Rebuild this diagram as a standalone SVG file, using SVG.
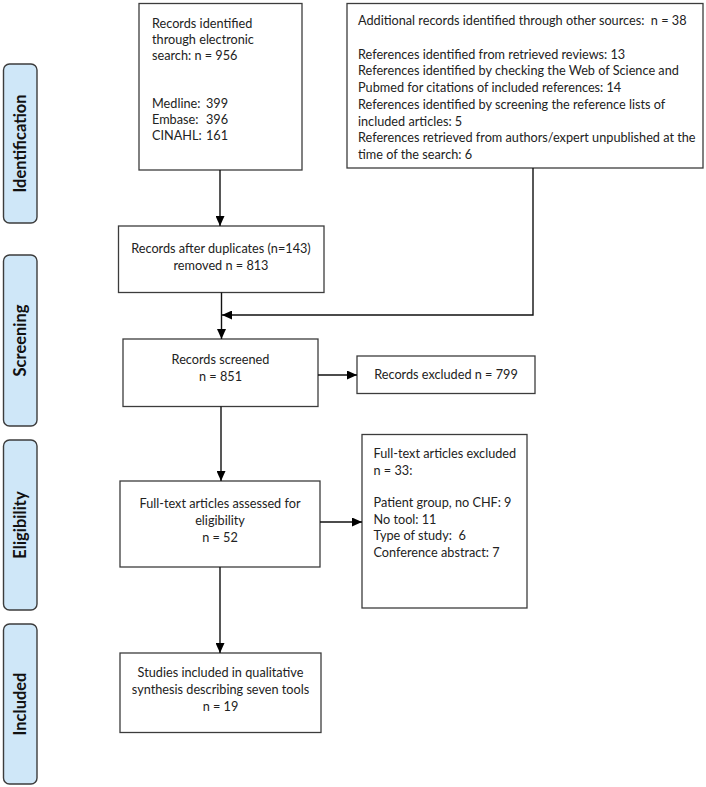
<svg xmlns="http://www.w3.org/2000/svg" width="706" height="787" viewBox="0 0 706 787">
<defs>
<marker id="ah" markerUnits="userSpaceOnUse" markerWidth="10" markerHeight="9" refX="10" refY="4.5" orient="auto">
<path d="M0,0 L10,4.5 L0,9 z" fill="#000"/>
</marker>
<style>
.bg{fill:#fff}
.box{fill:#fff;stroke:#3c3c3c;stroke-width:1.3}
.side{fill:#cfe7f8;stroke:#3c3c3c;stroke-width:1.4}
.t{font-family:Lato,"Open Sans",sans-serif;font-size:12.7px;fill:#222;white-space:pre}
.c{text-anchor:middle}
.st{font-family:Lato,"Open Sans",sans-serif;font-size:16.5px;font-weight:bold;fill:#111;text-anchor:middle}
.ln{fill:none;stroke:#111;stroke-width:1.4}
</style>
</defs>
<rect class="bg" x="0" y="0" width="706" height="787"/>

<g id="stage-identification">
<rect class="side" x="3.5" y="64" width="33.5" height="159" rx="6"/>
<text class="st" transform="translate(26,143.5) rotate(-90)">Identification</text>
</g>
<g id="stage-screening">
<rect class="side" x="3.5" y="255" width="33.5" height="171" rx="6"/>
<text class="st" transform="translate(26,340.5) rotate(-90)">Screening</text>
</g>
<g id="stage-eligibility">
<rect class="side" x="3.5" y="440" width="33.5" height="170" rx="6"/>
<text class="st" transform="translate(26,525) rotate(-90)">Eligibility</text>
</g>
<g id="stage-included">
<rect class="side" x="3.5" y="624" width="33.5" height="160" rx="6"/>
<text class="st" transform="translate(26,704) rotate(-90)">Included</text>
</g>

<g id="records-identified">
<rect class="box" x="139" y="3.5" width="163" height="166.5"/>
<text class="t" x="152" y="28">Records identified</text>
<text class="t" x="152" y="44">through electronic</text>
<text class="t" x="152" y="60">search: n = 956</text>
<text class="t" x="152" y="108">Medline:<tspan x="206">399</tspan></text>
<text class="t" x="152" y="124">Embase:<tspan x="206">396</tspan></text>
<text class="t" x="152" y="140">CINAHL:<tspan x="206">161</tspan></text>
</g>

<g id="additional-records">
<rect class="box" x="347" y="3.5" width="356" height="164.5"/>
<text class="t" x="358" y="25">Additional records identified through other sources:  n = 38</text>
<text class="t" x="358" y="58.5">References identified from retrieved reviews: 13</text>
<text class="t" x="358" y="75.3">References identified by checking the Web of Science and</text>
<text class="t" x="358" y="92">Pubmed for citations of included references: 14</text>
<text class="t" x="358" y="108.8">References identified by screening the reference lists of</text>
<text class="t" x="358" y="125.5">included articles: 5</text>
<text class="t" x="358" y="142.3">References retrieved from authors/expert unpublished at the</text>
<text class="t" x="358" y="159">time of the search: 6</text>
</g>

<g id="records-after-duplicates">
<rect class="box" x="118.5" y="226" width="205.5" height="66.5"/>
<text class="t c" x="221" y="253">Records after duplicates (n=143)</text>
<text class="t c" x="221" y="270">removed n = 813</text>
</g>

<g id="records-screened">
<rect class="box" x="123" y="339" width="195" height="67.5"/>
<text class="t c" x="220.5" y="364">Records screened</text>
<text class="t c" x="220.5" y="381">n = 851</text>
</g>

<g id="records-excluded">
<rect class="box" x="357" y="356" width="178" height="37.5"/>
<text class="t c" x="446" y="379">Records excluded n = 799</text>
</g>

<g id="full-text-assessed">
<rect class="box" x="120" y="481" width="200" height="86"/>
<text class="t c" x="220" y="508">Full-text articles assessed for</text>
<text class="t c" x="220" y="525">eligibility</text>
<text class="t c" x="220" y="542">n = 52</text>
</g>

<g id="full-text-excluded">
<rect class="box" x="362" y="434.5" width="165" height="173.5"/>
<text class="t" x="373.5" y="458">Full-text articles excluded</text>
<text class="t" x="373.5" y="475">n = 33:</text>
<text class="t" x="373.5" y="507">Patient group, no CHF: 9</text>
<text class="t" x="373.5" y="523.5">No tool: 11</text>
<text class="t" x="373.5" y="540">Type of study:  6</text>
<text class="t" x="373.5" y="556.5">Conference abstract: 7</text>
</g>

<g id="studies-included">
<rect class="box" x="120" y="653" width="201" height="79.5"/>
<text class="t c" x="220.5" y="677">Studies included in qualitative</text>
<text class="t c" x="220.5" y="694">synthesis describing seven tools</text>
<text class="t c" x="220.5" y="711">n = 19</text>
</g>

<g id="connectors">
<path class="ln" d="M220,170 V226" marker-end="url(#ah)"/>
<path class="ln" d="M221.5,292.5 V339" marker-end="url(#ah)"/>
<path class="ln" d="M533,168 V315 H222" marker-end="url(#ah)"/>
<path class="ln" d="M318,375 H357" marker-end="url(#ah)"/>
<path class="ln" d="M221,406.5 V481" marker-end="url(#ah)"/>
<path class="ln" d="M320,522 H362" marker-end="url(#ah)"/>
<path class="ln" d="M220,567 V653" marker-end="url(#ah)"/>
</g>
</svg>
